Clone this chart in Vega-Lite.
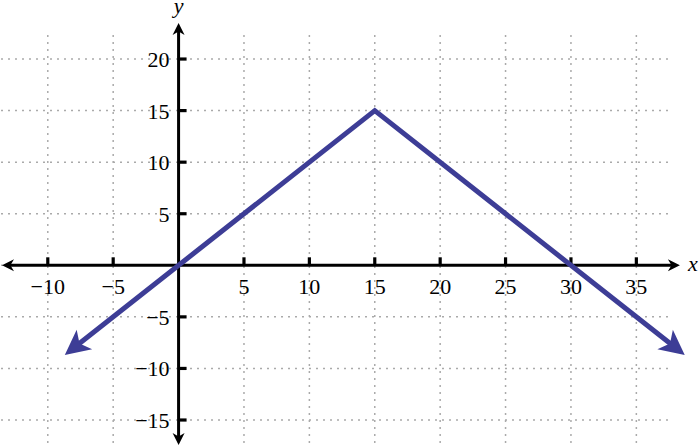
{
  "$schema": "https://vega.github.io/schema/vega-lite/v6.json",
  "width": 668,
  "height": 411,
  "autosize": {"type": "none"},
  "padding": {"left": 0, "top": 35, "right": 32, "bottom": 0},
  "background": "white",
  "config": {"view": {"stroke": null}},
  "datasets": {
    "gridx": [{"v": -10}, {"v": -5}, {"v": 0}, {"v": 5}, {"v": 10}, {"v": 15}, {"v": 20}, {"v": 25}, {"v": 30}, {"v": 35}],
    "gridy": [{"v": -15}, {"v": -10}, {"v": -5}, {"v": 0}, {"v": 5}, {"v": 10}, {"v": 15}, {"v": 20}],
    "xlabels": [{"v": -10, "t": "−10"}, {"v": -5, "t": "−5"}, {"v": 5, "t": "5"}, {"v": 10, "t": "10"}, {"v": 15, "t": "15"}, {"v": 20, "t": "20"}, {"v": 25, "t": "25"}, {"v": 30, "t": "30"}, {"v": 35, "t": "35"}],
    "ylabels": [{"v": -15, "t": "−15"}, {"v": -10, "t": "−10"}, {"v": -5, "t": "−5"}, {"v": 5, "t": "5"}, {"v": 10, "t": "10"}, {"v": 15, "t": "15"}, {"v": 20, "t": "20"}],
    "fn": [{"x": -8.0, "y": -8.0}, {"x": 15, "y": 15}, {"x": 38.0, "y": -8.0}]
  },
  "layer": [
    {
      "data": {"name": "gridx"},
      "mark": {"type": "rule", "color": "#aaaaaa", "strokeWidth": 1.5, "strokeDash": [2, 5]},
      "encoding": {"x": {"field": "v", "type": "quantitative", "scale": {"domain": [-13.654, 37.42], "nice": false, "zero": false}, "axis": null}}
    },
    {
      "data": {"name": "gridy"},
      "mark": {"type": "rule", "color": "#aaaaaa", "strokeWidth": 1.5, "strokeDash": [2, 5]},
      "encoding": {"y": {"field": "v", "type": "quantitative", "scale": {"domain": [-17.52, 22.33], "nice": false, "zero": false}, "axis": null}}
    },
    {
      "data": {"values": [{"a": -13.0, "b": 37.8}]},
      "mark": {"type": "rule", "color": "black", "strokeWidth": 3},
      "encoding": {
        "x": {"field": "a", "type": "quantitative", "scale": {"domain": [-13.654, 37.42], "nice": false, "zero": false}, "axis": null},
        "x2": {"field": "b"},
        "y": {"datum": 0, "type": "quantitative", "scale": {"domain": [-17.52, 22.33], "nice": false, "zero": false}, "axis": null}
      }
    },
    {
      "data": {"values": [{"a": -16.9, "b": 22.9}]},
      "mark": {"type": "rule", "color": "black", "strokeWidth": 3},
      "encoding": {
        "y": {"field": "a", "type": "quantitative", "scale": {"domain": [-17.52, 22.33], "nice": false, "zero": false}, "axis": null},
        "y2": {"field": "b"},
        "x": {"datum": 0, "type": "quantitative", "scale": {"domain": [-13.654, 37.42], "nice": false, "zero": false}, "axis": null}
      }
    },
    {
      "data": {"name": "xlabels"},
      "mark": {"type": "point", "shape": "M-0.2,0L0.2,0L0.2,-1L-0.2,-1Z", "size": 256, "filled": true, "opacity": 1, "color": "black", "strokeWidth": 0},
      "encoding": {
        "x": {"field": "v", "type": "quantitative", "scale": {"domain": [-13.654, 37.42], "nice": false, "zero": false}, "axis": null},
        "y": {"datum": 0, "type": "quantitative", "scale": {"domain": [-17.52, 22.33], "nice": false, "zero": false}, "axis": null}
      }
    },
    {
      "data": {"name": "ylabels"},
      "mark": {"type": "point", "shape": "M-0.2,0L0.2,0L0.2,-1L-0.2,-1Z", "size": 256, "angle": 90, "filled": true, "opacity": 1, "color": "black", "strokeWidth": 0},
      "encoding": {
        "y": {"field": "v", "type": "quantitative", "scale": {"domain": [-17.52, 22.33], "nice": false, "zero": false}, "axis": null},
        "x": {"datum": 0, "type": "quantitative", "scale": {"domain": [-13.654, 37.42], "nice": false, "zero": false}, "axis": null}
      }
    },
    {
      "data": {"name": "xlabels"},
      "mark": {"type": "text", "font": "Liberation Serif", "fontSize": 22, "align": "center", "baseline": "alphabetic", "dy": 29, "color": "black"},
      "encoding": {
        "x": {"field": "v", "type": "quantitative", "scale": {"domain": [-13.654, 37.42], "nice": false, "zero": false}, "axis": null},
        "y": {"datum": 0, "type": "quantitative", "scale": {"domain": [-17.52, 22.33], "nice": false, "zero": false}, "axis": null},
        "text": {"field": "t"}
      }
    },
    {
      "data": {"name": "ylabels"},
      "mark": {"type": "text", "font": "Liberation Serif", "fontSize": 22, "align": "right", "baseline": "alphabetic", "dx": -9, "dy": 8, "color": "black"},
      "encoding": {
        "y": {"field": "v", "type": "quantitative", "scale": {"domain": [-17.52, 22.33], "nice": false, "zero": false}, "axis": null},
        "x": {"datum": 0, "type": "quantitative", "scale": {"domain": [-13.654, 37.42], "nice": false, "zero": false}, "axis": null},
        "text": {"field": "t"}
      }
    },
    {
      "data": {"values": [{"t": "x"}]},
      "mark": {"type": "text", "font": "Liberation Serif", "fontSize": 22, "fontStyle": "italic", "align": "left", "baseline": "alphabetic", "dx": 8, "dy": 6, "color": "black"},
      "encoding": {
        "x": {"datum": 38.33, "type": "quantitative", "scale": {"domain": [-13.654, 37.42], "nice": false, "zero": false}, "axis": null},
        "y": {"datum": 0, "type": "quantitative", "scale": {"domain": [-17.52, 22.33], "nice": false, "zero": false}, "axis": null},
        "text": {"field": "t"}
      }
    },
    {
      "data": {"values": [{"t": "y"}]},
      "mark": {"type": "text", "font": "Liberation Serif", "fontSize": 22, "fontStyle": "italic", "align": "center", "baseline": "alphabetic", "dy": -10, "color": "black"},
      "encoding": {
        "x": {"datum": 0, "type": "quantitative", "scale": {"domain": [-13.654, 37.42], "nice": false, "zero": false}, "axis": null},
        "y": {"datum": 23.49, "type": "quantitative", "scale": {"domain": [-17.52, 22.33], "nice": false, "zero": false}, "axis": null},
        "text": {"field": "t"}
      }
    },
    {
      "data": {"name": "fn"},
      "mark": {"type": "line", "color": "#3d3d96", "strokeWidth": 5, "strokeJoin": "miter"},
      "encoding": {
        "x": {"field": "x", "type": "quantitative", "scale": {"domain": [-13.654, 37.42], "nice": false, "zero": false}, "axis": null},
        "y": {"field": "y", "type": "quantitative", "scale": {"domain": [-17.52, 22.33], "nice": false, "zero": false}, "axis": null}
      }
    },
    {
      "data": {"values": [{"x": -8.7, "y": -8.7}]},
      "mark": {"type": "point", "shape": "M0,0L-1,-0.5L-0.75,0L-1,0.5Z", "size": 2500, "angle": 141.7, "filled": true, "opacity": 1, "color": "#3d3d96", "strokeWidth": 0},
      "encoding": {
        "x": {"field": "x", "type": "quantitative", "scale": {"domain": [-13.654, 37.42], "nice": false, "zero": false}, "axis": null},
        "y": {"field": "y", "type": "quantitative", "scale": {"domain": [-17.52, 22.33], "nice": false, "zero": false}, "axis": null}
      }
    },
    {
      "data": {"values": [{"x": 38.7, "y": -8.7}]},
      "mark": {"type": "point", "shape": "M0,0L-1,-0.5L-0.75,0L-1,0.5Z", "size": 2500, "angle": 38.3, "filled": true, "opacity": 1, "color": "#3d3d96", "strokeWidth": 0},
      "encoding": {
        "x": {"field": "x", "type": "quantitative", "scale": {"domain": [-13.654, 37.42], "nice": false, "zero": false}, "axis": null},
        "y": {"field": "y", "type": "quantitative", "scale": {"domain": [-17.52, 22.33], "nice": false, "zero": false}, "axis": null}
      }
    },
    {
      "data": {"values": [{"x": 38.33, "y": 0}]},
      "mark": {"type": "point", "shape": "M0,0L-1,-0.5L-0.7,0L-1,0.5Z", "size": 576, "angle": 0, "filled": true, "opacity": 1, "color": "black", "strokeWidth": 0},
      "encoding": {
        "x": {"field": "x", "type": "quantitative", "scale": {"domain": [-13.654, 37.42], "nice": false, "zero": false}, "axis": null},
        "y": {"field": "y", "type": "quantitative", "scale": {"domain": [-17.52, 22.33], "nice": false, "zero": false}, "axis": null}
      }
    },
    {
      "data": {"values": [{"x": -13.5, "y": 0}]},
      "mark": {"type": "point", "shape": "M0,0L-1,-0.5L-0.7,0L-1,0.5Z", "size": 576, "angle": 180, "filled": true, "opacity": 1, "color": "black", "strokeWidth": 0},
      "encoding": {
        "x": {"field": "x", "type": "quantitative", "scale": {"domain": [-13.654, 37.42], "nice": false, "zero": false}, "axis": null},
        "y": {"field": "y", "type": "quantitative", "scale": {"domain": [-17.52, 22.33], "nice": false, "zero": false}, "axis": null}
      }
    },
    {
      "data": {"values": [{"x": 0, "y": 23.49}]},
      "mark": {"type": "point", "shape": "M0,0L-1,-0.5L-0.7,0L-1,0.5Z", "size": 576, "angle": 270, "filled": true, "opacity": 1, "color": "black", "strokeWidth": 0},
      "encoding": {
        "x": {"field": "x", "type": "quantitative", "scale": {"domain": [-13.654, 37.42], "nice": false, "zero": false}, "axis": null},
        "y": {"field": "y", "type": "quantitative", "scale": {"domain": [-17.52, 22.33], "nice": false, "zero": false}, "axis": null}
      }
    },
    {
      "data": {"values": [{"x": 0, "y": -17.42}]},
      "mark": {"type": "point", "shape": "M0,0L-1,-0.5L-0.7,0L-1,0.5Z", "size": 576, "angle": 90, "filled": true, "opacity": 1, "color": "black", "strokeWidth": 0},
      "encoding": {
        "x": {"field": "x", "type": "quantitative", "scale": {"domain": [-13.654, 37.42], "nice": false, "zero": false}, "axis": null},
        "y": {"field": "y", "type": "quantitative", "scale": {"domain": [-17.52, 22.33], "nice": false, "zero": false}, "axis": null}
      }
    }
  ]
}
